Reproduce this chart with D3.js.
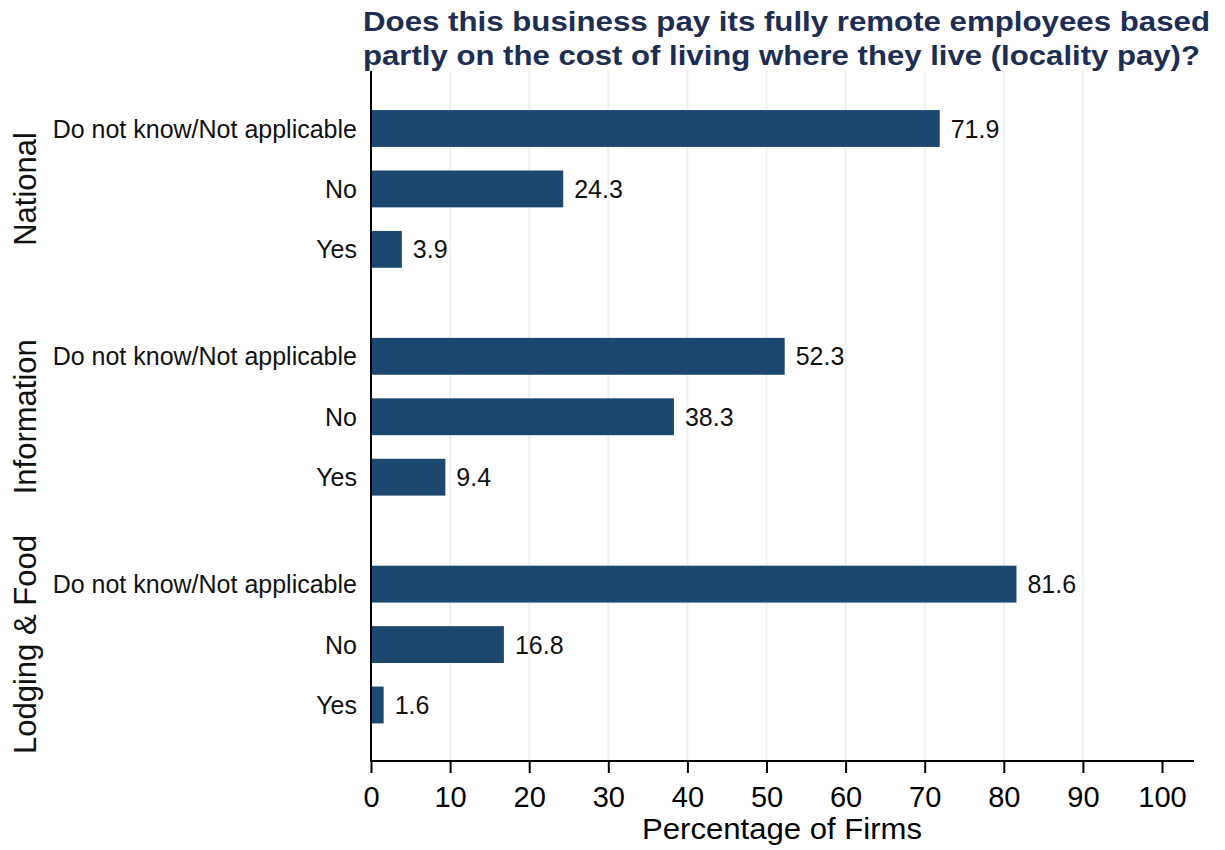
<!DOCTYPE html>
<html>
<head>
<meta charset="utf-8">
<script src="https://cdn.jsdelivr.net/npm/d3@7"></script>
<style>
  html, body { margin: 0; padding: 0; background: #ffffff; }
  svg { display: block; font-family: "Liberation Sans", Arial, sans-serif; }
</style>
</head>
<body>
<svg id="chart" width="1225" height="850"></svg>
<script>
// ---- Data ----
const titleLines = [
  "Does this business pay its fully remote employees based",
  "partly on the cost of living where they live (locality pay)?"
];
const groups = ["National", "Information", "Lodging & Food"];
const responses = ["Do not know/Not applicable", "No", "Yes"];
const nationalValues = [71.9, 24.3, 3.9];
const informationValues = [52.3, 38.3, 9.4];
const lodgingValues = [81.6, 16.8, 1.6];
const xTickValues = [0, 10, 20, 30, 40, 50, 60, 70, 80, 90, 100];
const xAxisTitle = "Percentage of Firms";

const seriesByGroup = [nationalValues, informationValues, lodgingValues];

// ---- Layout ----
const svg = d3.select("#chart");
const plotLeft = 371, plotRight = 1162, axisEnd = 1194;
const plotTop = 71, plotBottom = 761;
const groupStride = 3.77;

const x = d3.scaleLinear().domain([0, 100]).range([plotLeft, plotRight]);
const y = d3.scaleLinear().domain([0, 2 * groupStride + 2]).range([128.5, 705]);
const slot = y(1) - y(0);
const barH = slot * 0.61;

const rows = [];
groups.forEach((g, gi) => {
  responses.forEach((r, ri) => {
    rows.push({ group: g, response: r, value: seriesByGroup[gi][ri], idx: gi * groupStride + ri });
  });
});

// gridlines
svg.append("g").selectAll("line")
  .data(xTickValues.filter(v => v > 0 && v < 100))
  .join("line")
  .attr("x1", d => x(d)).attr("x2", d => x(d))
  .attr("y1", plotTop).attr("y2", plotBottom)
  .attr("stroke", "#eaf2f3").attr("stroke-width", 2);

// bars
svg.append("g").selectAll("rect")
  .data(rows)
  .join("rect")
  .attr("x", x(0))
  .attr("y", d => y(d.idx) - barH / 2)
  .attr("width", d => x(d.value) - x(0))
  .attr("height", barH)
  .attr("fill", "#1c476e");

// value labels
svg.append("g").selectAll("text")
  .data(rows)
  .join("text")
  .attr("x", d => x(d.value) + 11)
  .attr("y", d => y(d.idx) + 9)
  .attr("font-size", 25)
  .attr("fill", "#111")
  .text(d => d.value.toFixed(1));

// response labels
svg.append("g").selectAll("text")
  .data(rows)
  .join("text")
  .attr("x", 357)
  .attr("y", d => y(d.idx) + 9)
  .attr("text-anchor", "end")
  .attr("font-size", 25)
  .attr("fill", "#111")
  .text(d => d.response);

// group labels
svg.append("g").selectAll("text")
  .data(groups)
  .join("text")
  .attr("transform", (d, i) => `translate(36,${y(i * groupStride + 1)}) rotate(-90)`)
  .attr("text-anchor", "middle")
  .attr("font-size", 31)
  .attr("fill", "#111")
  .text(d => d);

// y axis line
svg.append("line")
  .attr("x1", plotLeft).attr("x2", plotLeft)
  .attr("y1", plotTop).attr("y2", plotBottom)
  .attr("stroke", "#000").attr("stroke-width", 2);

// x axis
const xAxis = d3.axisBottom(x).tickValues(xTickValues).tickSize(12).tickPadding(13).tickFormat(d3.format("d"));
const gx = svg.append("g").attr("transform", `translate(0,${plotBottom})`).call(xAxis);
gx.select(".domain").remove();
gx.selectAll(".tick line").attr("stroke", "#000").attr("stroke-width", 2);
gx.selectAll(".tick text").attr("font-size", 29).attr("fill", "#000")
  .attr("font-family", "\"Liberation Sans\", Arial, sans-serif");
svg.append("line")
  .attr("x1", plotLeft - 1).attr("x2", axisEnd)
  .attr("y1", plotBottom).attr("y2", plotBottom)
  .attr("stroke", "#000").attr("stroke-width", 2);

// x axis title
svg.append("text")
  .attr("x", (642 + 922) / 2)
  .attr("y", 839)
  .attr("text-anchor", "middle")
  .attr("font-size", 29)
  .attr("fill", "#000")
  .attr("textLength", 280)
  .attr("lengthAdjust", "spacingAndGlyphs")
  .text(xAxisTitle);

// title
const titleWidths = [847, 837];
svg.append("g").selectAll("text")
  .data(titleLines)
  .join("text")
  .attr("x", 363)
  .attr("y", (d, i) => 31 + i * 34)
  .attr("font-size", 28.5)
  .attr("font-weight", "bold")
  .attr("fill", "#1e2d52")
  .attr("textLength", (d, i) => titleWidths[i])
  .attr("lengthAdjust", "spacingAndGlyphs")
  .text(d => d);
</script>
</body>
</html>
